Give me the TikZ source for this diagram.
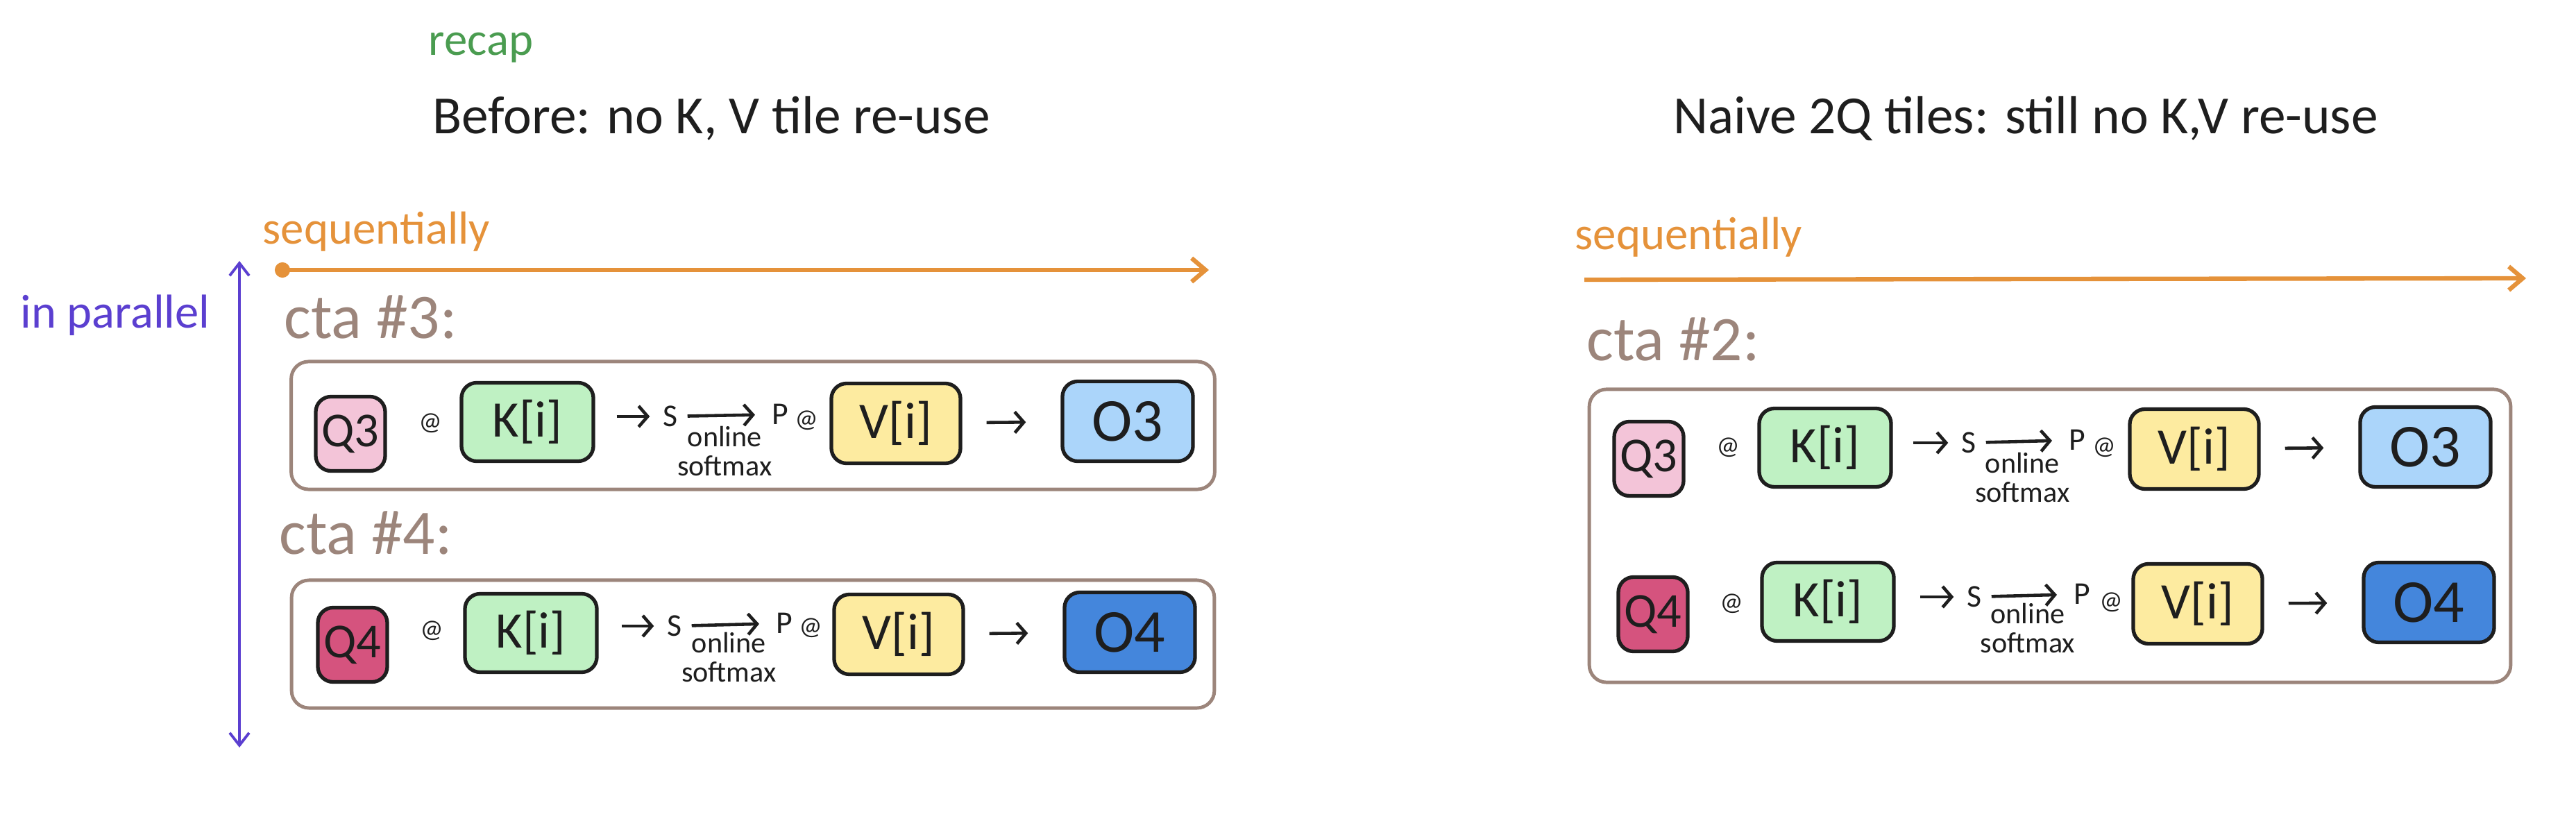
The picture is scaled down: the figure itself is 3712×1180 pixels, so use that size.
\documentclass[tikz,border=0pt]{standalone}
\usepackage{fontspec}
\setmainfont{Carlito}
\usetikzlibrary{positioning, arrows.meta, calc}

\definecolor{ink}{HTML}{1E1E1E}
\definecolor{qpink}{HTML}{F3C4D8}
\definecolor{qrose}{HTML}{D5537E}
\definecolor{kgreen}{HTML}{BFF1C3}
\definecolor{vyellow}{HTML}{FDEBA0}
\definecolor{olight}{HTML}{ABD5FA}
\definecolor{odark}{HTML}{4486DC}
\definecolor{ctabrown}{HTML}{9C857B}
\definecolor{seqorange}{HTML}{E5923A}
\definecolor{parpurple}{HTML}{5B3FD0}
\definecolor{recapgreen}{HTML}{4A9C50}

\tikzset{
  tile/.style={draw=ink, line width=1.5pt, rounded corners=0.22cm, text=ink, inner sep=0pt},
  qtile/.style={tile, minimum width=1cm, minimum height=1.07cm, font=\fontsize{20pt}{22pt}\selectfont},
  ktile/.style={tile, fill=kgreen, minimum width=1.9cm, minimum height=1.13cm, font=\fontsize{21pt}{23pt}\selectfont},
  vtile/.style={tile, fill=vyellow, minimum width=1.86cm, minimum height=1.15cm, font=\fontsize{21pt}{23pt}\selectfont},
  otile/.style={tile, minimum width=1.88cm, minimum height=1.15cm, font=\fontsize{25pt}{27pt}\selectfont},
  ctaframe/.style={draw=ctabrown, line width=1.4pt, rounded corners=0.25cm, inner sep=0pt},
  opsym/.style={text=ink, inner sep=1pt, font=\fontsize{13pt}{14pt}\selectfont},
  atsym/.style={text=ink, inner sep=1pt, font=\fontsize{10.5pt}{11pt}\selectfont},
  smnote/.style={text=ink, align=center, inner sep=1pt, font=\fontsize{12pt}{12pt}\selectfont},
  flow/.style={draw=ink, line width=1.3pt, -{Straight Barb[length=1.3mm, width=3mm]}},
  heading/.style={anchor=base west, text=ink, inner sep=0pt, font=\fontsize{22pt}{24pt}\selectfont},
  ctalabel/.style={anchor=base west, text=ctabrown, inner sep=0pt, font=\fontsize{26pt}{28pt}\selectfont},
  seqlabel/.style={anchor=base west, text=seqorange, inner sep=0pt, font=\fontsize{19pt}{21pt}\selectfont},
  seqline/.style={draw=seqorange, line width=1.8pt},
}

\begin{document}
\begin{tikzpicture}[x=0.01cm, y=-0.01cm]
  \fill[white] (0,0) rectangle (3712,1180);
  \useasboundingbox (0,0) rectangle (3712,1180);

  % headings
  \node[heading, text=recapgreen, font=\fontsize{19pt}{21pt}\selectfont] (recap) at (617,80) {recap};
  \node[heading] (beforetitle) at (623,193) {Before: no K, V tile re-use};
  \node[heading] (naivetitle) at (2411,193) {Naive 2Q tiles: still no K,V re-use};

  % time axes
  \node[seqlabel] (seqleft) at (378,352) {sequentially};
  \node[seqlabel] (seqright) at (2269,360) {sequentially};
  \node[anchor=base west, text=parpurple, inner sep=0pt, font=\fontsize{19.5pt}{21pt}\selectfont] (parallel) at (29,473) {in parallel};
  \coordinate (seqLstart) at (396,389);
  \coordinate (seqLend) at (1742,389);
  \coordinate (seqRstart) at (2283,403);
  \coordinate (seqRend) at (3640,401);
  \coordinate (parTop) at (345,376);
  \coordinate (parBot) at (345,1077);
  \draw[seqline, {Circle[length=2.2mm]}-{Straight Barb[length=2mm, width=3.4mm]}] (seqLstart) -- (seqLend);
  \draw[seqline, -{Straight Barb[length=2mm, width=3.4mm]}] (seqRstart) -- (seqRend);
  \draw[parpurple, line width=1.1pt, {Straight Barb[length=1.8mm, width=2.8mm]}-{Straight Barb[length=1.8mm, width=2.8mm]}] (parBot) -- (parTop);

  % cta frames
  \node[ctalabel] (cta3lbl) at (409,488) {cta \#3:};
  \node[ctalabel] (cta4lbl) at (402,799) {cta \#4:};
  \node[ctalabel] (cta2lbl) at (2286,520) {cta \#2:};
  \node[ctaframe, minimum width=13.3cm, minimum height=1.84cm] (cta3) at (1085,613) {};
  \node[ctaframe, minimum width=13.29cm, minimum height=1.84cm] (cta4) at (1085,928) {};
  \node[ctaframe, minimum width=13.27cm, minimum height=4.22cm] (cta2) at (2954,772) {};

  % left, cta #3
  \node[qtile, fill=qpink] (q3a) at (505,625) {Q3};
  \node[atsym] (at1a) at (620,610) {@};
  \node[ktile] (k1a) at (760,608) {K[i]};
  \node[opsym] (s1a) at (966,600) {S};
  \node[opsym] (p1a) at (1124,597) {P};
  \node[atsym] (pat1a) at (1162,606) {@};
  \node[vtile] (v1a) at (1291,610) {V[i]};
  \node[otile, fill=olight] (o3a) at (1625,607) {O3};
  \draw[flow, shorten <=0.31cm, shorten >=0.15cm] (k1a.east |- s1a) -- (s1a);
  \draw[flow, shorten <=0.1cm, shorten >=0.2cm] (s1a) -- (p1a) node[smnote, midway, below=0.1cm] {online\\softmax};
  \draw[flow, shorten <=0.35cm, shorten >=0.5cm] (v1a) -- (o3a);

  % left, cta #4
  \node[qtile, fill=qrose] (q4a) at (508,929) {Q4};
  \node[atsym] (at2a) at (622,909) {@};
  \node[ktile] (k2a) at (765,912) {K[i]};
  \node[opsym] (s2a) at (972,902) {S};
  \node[opsym] (p2a) at (1130,898) {P};
  \node[atsym] (pat2a) at (1168,905) {@};
  \node[vtile] (v2a) at (1295,914) {V[i]};
  \node[otile, fill=odark] (o4a) at (1628,911) {O4};
  \draw[flow, shorten <=0.33cm, shorten >=0.15cm] (k2a.east |- s2a) -- (s2a);
  \draw[flow, shorten <=0.1cm, shorten >=0.2cm] (s2a) -- (p2a) node[smnote, midway, below=0.05cm] {online\\softmax};
  \draw[flow, shorten <=0.35cm, shorten >=0.5cm] (v2a) -- (o4a);

  % right, cta #2 with two Q tiles
  \node[qtile, fill=qpink] (q3b) at (2376,661) {Q3};
  \node[atsym] (at1b) at (2490,645) {@};
  \node[ktile] (k1b) at (2630,645) {K[i]};
  \node[opsym] (s1b) at (2837,638) {S};
  \node[opsym] (p1b) at (2993,634) {P};
  \node[atsym] (pat1b) at (3032,645) {@};
  \node[vtile] (v1b) at (3162,647) {V[i]};
  \node[otile, fill=olight] (o3b) at (3495,644) {O3};
  \draw[flow, shorten <=0.29cm, shorten >=0.15cm] (k1b.east |- s1b) -- (s1b);
  \draw[flow, shorten <=0.1cm, shorten >=0.2cm] (s1b) -- (p1b) node[smnote, midway, below=0.1cm] {online\\softmax};
  \draw[flow, shorten <=0.35cm, shorten >=0.5cm] (v1b) -- (o3b);

  \node[qtile, fill=qrose] (q4b) at (2382,885) {Q4};
  \node[atsym] (at2b) at (2495,870) {@};
  \node[ktile] (k2b) at (2634,867) {K[i]};
  \node[opsym] (s2b) at (2845,860) {S};
  \node[opsym] (p2b) at (3000,856) {P};
  \node[atsym] (pat2b) at (3042,868) {@};
  \node[vtile] (v2b) at (3167,870) {V[i]};
  \node[otile, fill=odark] (o4b) at (3500,868) {O4};
  \draw[flow, shorten <=0.35cm, shorten >=0.15cm] (k2b.east |- s2b) -- (s2b);
  \draw[flow, shorten <=0.1cm, shorten >=0.2cm] (s2b) -- (p2b) node[smnote, midway, below=0.05cm] {online\\softmax};
  \draw[flow, shorten <=0.35cm, shorten >=0.5cm] (v2b) -- (o4b);
\end{tikzpicture}
\end{document}
